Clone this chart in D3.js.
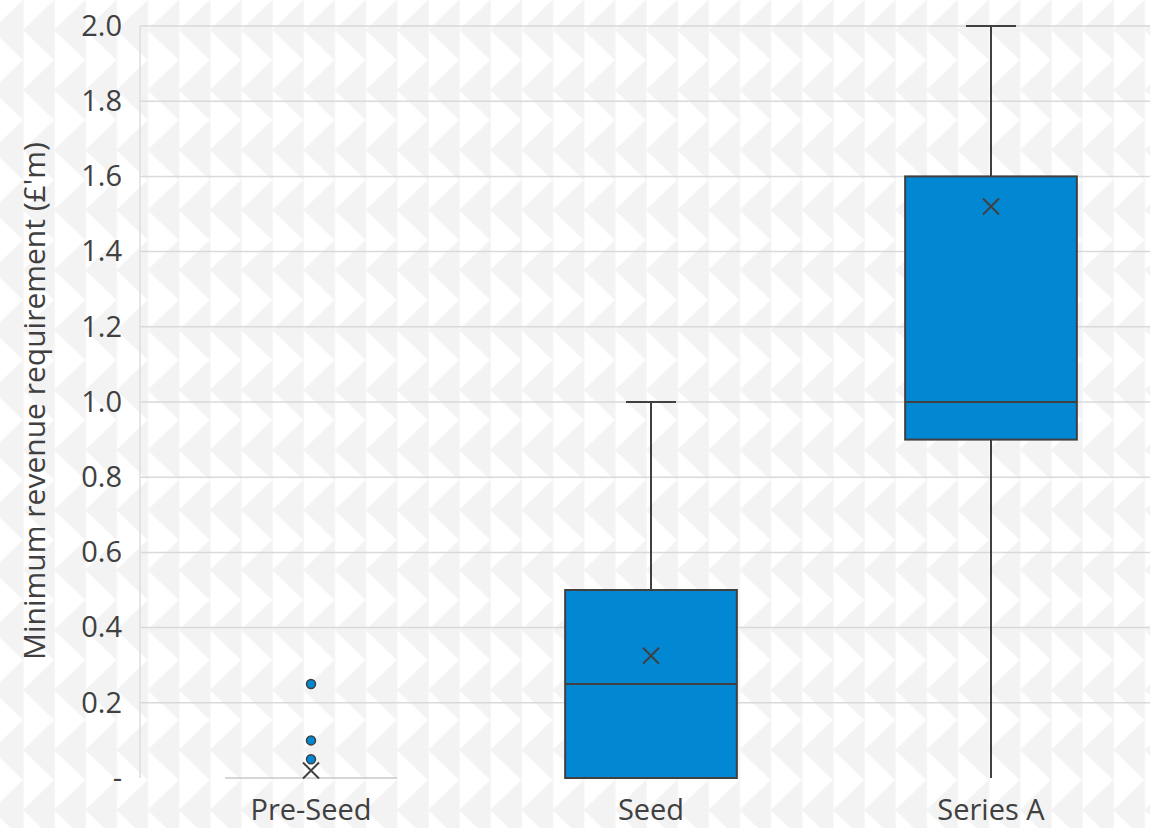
<!DOCTYPE html>
<html><head><meta charset="utf-8">
<script src="https://cdn.jsdelivr.net/npm/d3@7"></script>
<style>html,body{margin:0;padding:0;background:#fff;}svg{display:block;}</style>
</head><body>
<svg id="chart" width="1150" height="828"></svg>
<script>
// ---- data ----
const categories = ["Pre-Seed", "Seed", "Series A"];
const minValues    = [0, 0, 0];
const q1Values     = [0, 0, 0.9];
const medianValues = [0, 0.25, 1.0];
const q3Values     = [0, 0.5, 1.6];
const maxValues    = [0, 1.0, 2.0];
const meanValues   = [0.02, 0.325, 1.52];
const outlierCats   = ["Pre-Seed", "Pre-Seed", "Pre-Seed"];
const outlierValues = [0.25, 0.1, 0.05];
const yTicks = [0, 0.2, 0.4, 0.6, 0.8, 1.0, 1.2, 1.4, 1.6, 1.8, 2.0];
const yTitle = "Minimum revenue requirement (£'m)";

const W = 1150, H = 828;
const svg = d3.select("#chart");
const font = "'Open Sans', sans-serif";
const txt = "#404040";
const boxFill = "#0288D2";

// background pattern
const defs = svg.append("defs");
const pat = defs.append("pattern").attr("id", "tri").attr("patternUnits", "userSpaceOnUse")
  .attr("width", 31.15).attr("height", 60).attr("x", 23).attr("y", 30);
pat.append("rect").attr("width", 31.15).attr("height", 60).attr("fill", "#f3f3f3");
pat.append("path").attr("d", "M0,0 L31.15,30 L0,60 Z").attr("fill", "#ffffff");
pat.append("line").attr("x1", 0.3).attr("x2", 0.3).attr("y1", 0).attr("y2", 60).attr("stroke", "#f0f0f0").attr("stroke-width", 0.6);
svg.append("rect").attr("width", W).attr("height", H).attr("fill", "url(#tri)");

const x = d3.scaleBand().domain(categories).range([141, 1161]).padding(0);
const y = d3.scaleLinear().domain([0, 2]).range([778, 26]);

// gridlines
const g = svg.append("g");
g.selectAll("line.grid").data(yTicks.filter(t => t > 0)).join("line")
  .attr("x1", 140).attr("x2", W).attr("y1", d => y(d)).attr("y2", d => y(d))
  .attr("stroke", "#d9d9d9").attr("stroke-width", 1.5);
g.append("line").attr("x1", 140).attr("x2", 140).attr("y1", y(2)).attr("y2", y(0))
  .attr("stroke", "#dedede").attr("stroke-width", 1.5);

// y axis
const yAxis = d3.axisLeft(y).tickValues(yTicks).tickSize(0).tickPadding(18)
  .tickFormat(d => d === 0 ? "-" : d3.format(".1f")(d));
const ya = svg.append("g").attr("transform", "translate(140,0)").call(yAxis);
ya.select(".domain").remove();
ya.selectAll("text").attr("font-family", font).attr("font-size", 29).attr("fill", txt);

// x axis
const xAxis = d3.axisBottom(x).tickSize(0).tickPadding(21);
const xa = svg.append("g").attr("transform", "translate(0,778)").call(xAxis);
xa.select(".domain").remove();
xa.selectAll("text").attr("font-family", font).attr("font-size", 29).attr("fill", txt);

// axis title
svg.append("text").attr("transform", `translate(45,${(140+662)/2}) rotate(-90)`)
  .attr("text-anchor", "middle").attr("font-family", font).attr("font-size", 30)
  .attr("fill", txt).text(yTitle);

// boxes
const bw = x.bandwidth() * 0.505;
const capW = 50;
const stroke = "#404040";
categories.forEach((c, i) => {
  const cx = x(c) + x.bandwidth() / 2;
  const grp = svg.append("g");
  if (q3Values[i] === q1Values[i] && maxValues[i] === minValues[i]) {
    grp.append("line").attr("x1", cx - bw/2).attr("x2", cx + bw/2)
      .attr("y1", y(q1Values[i])).attr("y2", y(q1Values[i]))
      .attr("stroke", "#c8c8c8").attr("stroke-width", 1.5);
  } else {
    if (maxValues[i] > q3Values[i]) {
      grp.append("line").attr("x1", cx).attr("x2", cx).attr("y1", y(q3Values[i])).attr("y2", y(maxValues[i]))
        .attr("stroke", stroke).attr("stroke-width", 2);
      grp.append("line").attr("x1", cx - capW/2).attr("x2", cx + capW/2).attr("y1", y(maxValues[i])).attr("y2", y(maxValues[i]))
        .attr("stroke", stroke).attr("stroke-width", 2);
    }
    if (minValues[i] < q1Values[i]) {
      grp.append("line").attr("x1", cx).attr("x2", cx).attr("y1", y(q1Values[i])).attr("y2", y(minValues[i]))
        .attr("stroke", stroke).attr("stroke-width", 2);
    }
    grp.append("rect").attr("x", cx - bw/2).attr("width", bw)
      .attr("y", y(q3Values[i])).attr("height", y(q1Values[i]) - y(q3Values[i]))
      .attr("fill", boxFill).attr("stroke", stroke).attr("stroke-width", 2);
    grp.append("line").attr("x1", cx - bw/2).attr("x2", cx + bw/2).attr("y1", y(medianValues[i])).attr("y2", y(medianValues[i]))
      .attr("stroke", stroke).attr("stroke-width", 2);
  }
  const my = y(meanValues[i]), s = 8;
  grp.append("path").attr("d", `M${cx-s},${my-s}L${cx+s},${my+s}M${cx-s},${my+s}L${cx+s},${my-s}`)
    .attr("stroke", stroke).attr("stroke-width", 2).attr("fill", "none");
});

// outliers
svg.append("g").selectAll("circle").data(outlierValues).join("circle")
  .attr("cx", (d, i) => x(outlierCats[i]) + x.bandwidth() / 2)
  .attr("cy", d => y(d)).attr("r", 4.5)
  .attr("fill", boxFill).attr("stroke", stroke).attr("stroke-width", 1.5);
</script>
</body></html>
